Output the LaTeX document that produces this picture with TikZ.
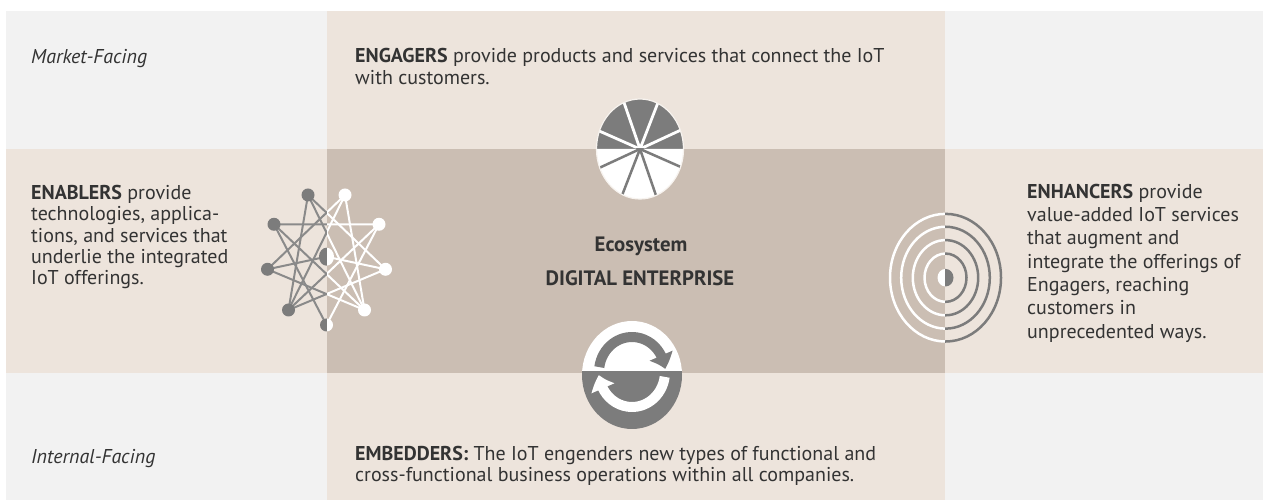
\documentclass[tikz,border=0pt]{standalone}
\usepackage{fontspec}
\setmainfont{PT Sans}
\usetikzlibrary{arrows.meta,bending}
\definecolor{lgray}{HTML}{F2F2F2}
\definecolor{beige}{HTML}{EDE4DC}
\definecolor{dbeige}{HTML}{CBBEB3}
\definecolor{igray}{HTML}{7C7C7C}
\definecolor{lgline}{HTML}{8A8A8A}
\definecolor{txtc}{HTML}{333333}
\tikzset{
  txt/.style={inner sep=0pt, align=left, text=txtc, font=\fontsize{20}{21.4}\selectfont},
  txtwide/.style={txt, font=\fontsize{20}{23.3}\selectfont},
  netline/.style={line width=2pt},
}
\begin{document}
\begin{tikzpicture}[x=1pt,y=1pt]
\path[use as bounding box] (0,0) rectangle (1263,500);
\fill[white] (0,0) rectangle (1263,500);
% bands
\fill[lgray] (6,351) rectangle (327,489);
\fill[lgray] (945,351) rectangle (1263,489);
\fill[lgray] (6,0) rectangle (327,127);
\fill[lgray] (945,0) rectangle (1263,127);
\fill[beige] (327,351) rectangle (945,489);
\fill[beige] (6,127) rectangle (327,351);
\fill[beige] (945,127) rectangle (1263,351);
\fill[beige] (327,0) rectangle (945,127);
\fill[dbeige] (327,127) rectangle (945,351);

% texts (base anchor = baseline of the last line)
\node[txt, anchor=base west] (market) at (31,436.5) {\itshape Market-Facing};
\node[txt, anchor=base west] (internal) at (31,36) {\itshape Internal-Facing};
\node[txt, anchor=base west] (engagers) at (355,415.8) {\textbf{ENGAGERS} provide products and services that connect the IoT\\with customers.};
\node[txt, anchor=base west] (embedders) at (355,18) {\textbf{EMBEDDERS:} The IoT engenders new types of functional and\\cross-functional business operations within all companies.};
\node[txt, anchor=base west] (enablers) at (31,215.1) {\textbf{ENABLERS} provide\\technologies, applica-\\tions, and services that\\underlie the integrated\\IoT offerings.};
\node[txtwide, anchor=base west] (enhancers) at (1027,161.9) {\textbf{ENHANCERS} provide\\value-added IoT services\\that augment and\\integrate the offerings of\\Engagers, reaching\\customers in\\unprecedented ways.};
\node[txt, anchor=base, font=\fontsize{20.8}{22}\selectfont\bfseries] (eco) at (641,248) {Ecosystem};
\node[txt, anchor=base, font=\fontsize{20.8}{22}\selectfont\bfseries] (digital) at (640,214) {DIGITAL ENTERPRISE};

% pie icon (Engagers)
\fill[igray] (683.5,351) arc[start angle=0,end angle=180,x radius=43.5,y radius=50] -- cycle;
\fill[white] (683.5,351) arc[start angle=0,end angle=-180,x radius=43.5,y radius=50] -- cycle;
\begin{scope}
  \clip (590,351) rectangle (690,405);
  \foreach \t in {22,66,111.6,159}
    \draw[white, line width=2.8pt] ([shift={(\t:43.5 and 50)}]640,351) -- ([shift={(\t+180:43.5 and 50)}]640,351);
\end{scope}
\begin{scope}
  \clip (590,351) rectangle (690,295);
  \foreach \t in {22,66,111.6,159}
    \draw[igray, line width=2.5pt] ([shift={(\t:43.5 and 50)}]640,351) -- ([shift={(\t+180:43.5 and 50)}]640,351);
\end{scope}
\draw[white!55!beige, line width=1.2pt] (640,351) ellipse[x radius=43.5, y radius=50];

% network icon (Enablers)
\coordinate (nA) at (308,305);
\coordinate (nA2) at (345,305);
\coordinate (nB) at (274,275.7);
\coordinate (nB2) at (379,275.7);
\coordinate (nC) at (267.5,230.7);
\coordinate (nC2) at (385.5,230.7);
\coordinate (nD) at (288.5,190);
\coordinate (nD2) at (364.5,190);
\coordinate (nE) at (326.5,175);
\coordinate (nM) at (326.5,243.3);
\newcommand{\mynetwork}[3]{%
  \begin{scope}
    \clip #1;
    \draw[netline, draw=#2] (nA) -- (nC2) -- (nD) -- cycle;
    \draw[netline, draw=#2] (nA2) -- (nD2) -- (nC) -- cycle;
    \draw[netline, draw=#2] (nB) -- (nB2) -- (nE) -- cycle;
    \draw[netline, draw=#2] (nA) -- (nD2);
    \draw[netline, draw=#2] (nA2) -- (nD);
    \draw[netline, draw=#2] (nB) -- (nD2);
    \draw[netline, draw=#2] (nB2) -- (nD);
    \draw[netline, draw=#2] (nC) -- (nM) -- (nC2);
    \fill[#3] (nA) circle[radius=6.5] (nA2) circle[radius=6.5]
      (nB) circle[radius=6.5] (nB2) circle[radius=6.5]
      (nC) circle[radius=6.5] (nC2) circle[radius=6.5]
      (nD) circle[radius=6.5] (nD2) circle[radius=6.5]
      (nE) circle[radius=6.5];
    \fill[#3] (nM) ellipse[x radius=7.5, y radius=9];
  \end{scope}}
\mynetwork{(250,160) rectangle (327,320)}{lgline}{igray}
\mynetwork{(327,160) rectangle (400,320)}{white}{white}

% target icon (Enhancers)
\begin{scope}
  \clip (880,140) rectangle (945,300);
  \foreach \r in {21,32.7,44.3,55.5}
    \draw[white, line width=2.5pt] (945.5,222.3) ellipse[x radius=\r, y radius=1.15*\r];
  \fill[white] (945.5,222.3) ellipse[x radius=8, y radius=8.8];
\end{scope}
\begin{scope}
  \clip (945,140) rectangle (1010,300);
  \foreach \r in {21,32.7,44.3,55.5}
    \draw[igray, line width=2.5pt] (945.5,222.3) ellipse[x radius=\r, y radius=1.15*\r];
  \fill[igray] (945.5,222.3) ellipse[x radius=8, y radius=8.8];
\end{scope}

% cycle icon (Embedders)
\begin{scope}
  \clip (570,128) rectangle (700,200);
  \fill[white] (632,125) ellipse[x radius=50, y radius=54];
\end{scope}
\begin{scope}
  \clip (570,50) rectangle (700,128);
  \fill[igray] (632,125) ellipse[x radius=50, y radius=54];
\end{scope}
\draw[igray, line width=10pt, -{Triangle[width=24pt,length=14pt,bend]}]
  ([shift={(172:33 and 35)}]632,128) arc[start angle=172, end angle=5, x radius=33, y radius=35];
\draw[white, line width=10pt, -{Triangle[width=24pt,length=14pt,bend]}]
  ([shift={(-8:33 and 35)}]632,128) arc[start angle=-8, end angle=-175, x radius=33, y radius=35];
\end{tikzpicture}
\end{document}
